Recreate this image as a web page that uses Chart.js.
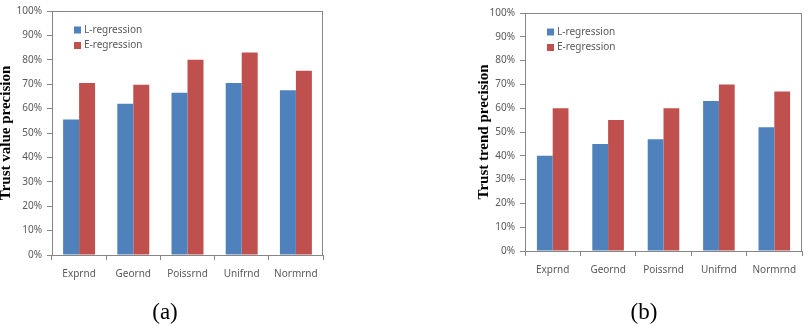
<!DOCTYPE html>
<html><head><meta charset="utf-8">
<script src="https://cdn.jsdelivr.net/npm/chart.js@4.4.0/dist/chart.umd.min.js"></script>
<style>
html,body{margin:0;padding:0;background:#fff;width:812px;height:326px;overflow:hidden;}
.wrap{position:absolute;}
.cap{position:absolute;font-family:"Liberation Serif",serif;font-size:23px;color:#000;transform:translateX(-50%);line-height:1;}
</style></head><body>
<div class="wrap" style="left:0;top:0;"><canvas id="ca" width="406" height="300"></canvas></div>
<div class="wrap" style="left:478px;top:0;"><canvas id="cb" width="334" height="300"></canvas></div>
<div class="cap" style="left:165px;top:300px">(a)</div>
<div class="cap" style="left:644px;top:300px">(b)</div>
<script>
const categories = ['Exprnd','Geornd','Poissrnd','Unifrnd','Normrnd'];
const seriesNames = ['L-regression','E-regression'];
const valueL = [55.5, 62, 66.5, 70.5, 67.5];
const valueE = [70.5, 69.8, 80, 83, 75.5];
const trendL = [40, 45, 47, 63, 52];
const trendE = [60, 55, 60, 70, 67];
const yTickLabels = ['0%','10%','20%','30%','40%','50%','60%','70%','80%','90%','100%'];
const colors = ['#4F81BD','#C0504D'];
const axisGray = '#868686';
const textGray = '#595959';

const boxPlugin = {
  id:'box',
  afterDraw(chart){
    const a = chart.chartArea, ctx = chart.ctx;
    ctx.save();
    ctx.strokeStyle = axisGray; ctx.lineWidth = 1;
    ctx.strokeRect(Math.round(a.left)+0.5, Math.round(a.top)+0.5, Math.round(a.right-a.left)-1, Math.round(a.bottom-a.top));
    ctx.restore();
  }
};
const innerLegend = {
  id:'innerLegend',
  afterDatasetsDraw(chart){
    const a = chart.chartArea, ctx = chart.ctx;
    ctx.save();
    ctx.font = '10px "Noto Sans"';
    ctx.textBaseline = 'middle';
    chart.data.datasets.forEach((ds,i)=>{
      const cy = a.top + 19 + i*15.5;
      ctx.fillStyle = ds.backgroundColor;
      ctx.fillRect(a.left+22, cy-3.5, 7, 7);
      ctx.fillStyle = textGray;
      ctx.fillText(ds.label, a.left+32, cy);
    });
    ctx.restore();
  }
};

function makeChart(id, l, e, title, pad, yWidth, xHeight, catPct){
  return new Chart(document.getElementById(id), {
    type:'bar',
    data:{
      labels: categories,
      datasets:[
        {label: seriesNames[0], data: l, backgroundColor: colors[0], barPercentage:1, categoryPercentage:catPct},
        {label: seriesNames[1], data: e, backgroundColor: colors[1], barPercentage:1, categoryPercentage:catPct}
      ]
    },
    options:{
      responsive:false, animation:false,
      layout:{padding:pad},
      plugins:{legend:{display:false}, tooltip:{enabled:false}},
      scales:{
        x:{
          grid:{drawOnChartArea:false, drawTicks:true, tickLength:5, color:axisGray, offset:true},
          border:{color:axisGray},
          ticks:{color:textGray, font:{family:'Noto Sans', size:10}, padding:8, maxRotation:0},
          afterFit(s){ s.height = xHeight; }
        },
        y:{
          min:0, max:100,
          grid:{drawOnChartArea:false, drawTicks:true, tickLength:5, color:axisGray},
          border:{color:axisGray},
          ticks:{stepSize:10, color:textGray, font:{family:'Noto Sans', size:10}, padding:5,
                 callback:(v)=>yTickLabels[Math.round(v/10)]},
          title:{display:true, text:title, color:'#000', padding:0,
                 font:{family:'Liberation Serif', size:15, weight:'bold', lineHeight:0.8}},
          afterFit(s){ s.width = yWidth; }
        }
      }
    },
    plugins:[boxPlugin, innerLegend]
  });
}
makeChart('ca', valueL, valueE, 'Trust value precision', {left:0, top:10, right:83, bottom:0}, 52, 45, 0.59);
makeChart('cb', trendL, trendE, 'Trust trend precision', {left:0, top:13, right:10, bottom:0}, 47, 49, 0.57);
</script>
</body></html>
